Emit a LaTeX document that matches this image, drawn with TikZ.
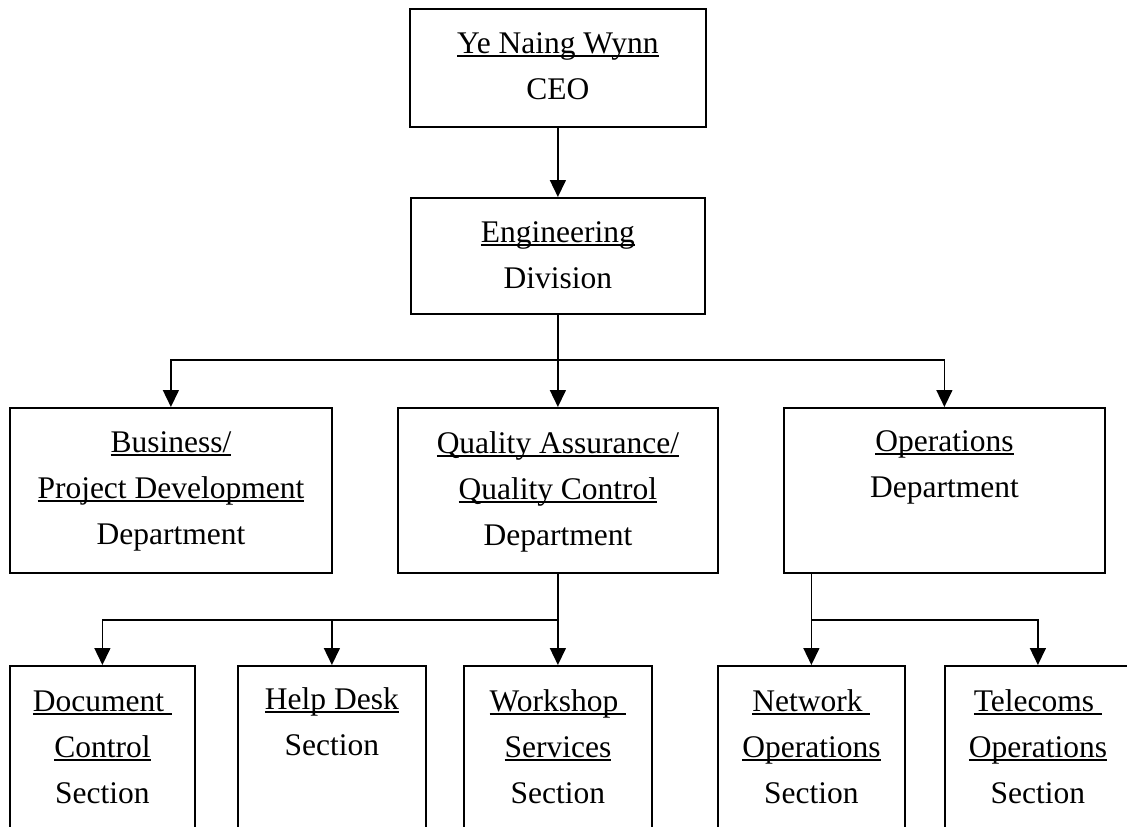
\documentclass[tikz,border=0pt]{standalone}
\usepackage{fontspec}
\setmainfont{Liberation Serif}
\usetikzlibrary{arrows.meta,calc}
% underline at a fixed depth below the baseline (crossing descenders)
\newcommand\ulword[1]{\setbox0=\hbox{#1}\rlap{\rule[-3.6pt]{\wd0}{1.7pt}}\box0}

\begin{document}
\begin{tikzpicture}[x=1pt,y=-1pt,
  box/.style={draw, line width=1.8pt, rectangle, inner sep=0pt, anchor=north west},
  txt/.style={anchor=north, inner sep=0pt, align=center, font=\fontsize{31.5}{46}\selectfont},
  conn/.style={line width=1.5pt},
  arr/.style={conn, -{Triangle[width=16pt,length=17pt]}}]

\useasboundingbox (0,0) rectangle (1127,827);
\clip (0,0) rectangle (1127,827);

% boxes
\node[box, minimum width=296pt, minimum height=118pt] (ceo)  at (409,8)   {};
\node[box, minimum width=294pt, minimum height=116pt] (eng)  at (410,197) {};
\node[box, minimum width=322pt, minimum height=165pt] (bus)  at (9,407)   {};
\node[box, minimum width=320pt, minimum height=165pt] (qa)   at (397,407) {};
\node[box, minimum width=321pt, minimum height=165pt] (ops)  at (783,407) {};
\node[box, minimum width=185pt, minimum height=180pt] (doc)  at (9,665)   {};
\node[box, minimum width=188pt, minimum height=180pt] (help) at (237,665) {};
\node[box, minimum width=188pt, minimum height=180pt] (work) at (463,665) {};
\node[box, minimum width=187pt, minimum height=180pt] (net)  at (717,665) {};
\node[box, minimum width=186pt, minimum height=180pt] (tel)  at (944,665) {};

% labels
\node[txt] (ceot)  at ($(ceo.north)+(0,13)$)  {\strut\ulword{Ye Naing Wynn}\\\strut CEO};
\node[txt] (engt)  at ($(eng.north)+(0,13)$)  {\strut\ulword{Engineering}\\\strut Division};
\node[txt] (bust)  at ($(bus.north)+(0,13)$)  {\strut\ulword{Business/}\\\strut\ulword{Project Development}\\\strut Department};
\node[txt] (qat)   at ($(qa.north)+(0,14)$)   {\strut\ulword{Quality Assurance/}\\\strut\ulword{Quality Control}\\\strut Department};
\node[txt] (opst)  at ($(ops.north)+(0,12)$)  {\strut\ulword{Operations}\\\strut Department};
\node[txt] (doct)  at ($(doc.north)+(0,14)$)  {\strut\ulword{Document\ }\\\strut\ulword{Control}\\\strut Section};
\node[txt] (helpt) at ($(help.north)+(0,12)$) {\strut\ulword{Help Desk}\\\strut Section};
\node[txt] (workt) at ($(work.north)+(0,14)$) {\strut\ulword{Workshop\ }\\\strut\ulword{Services}\\\strut Section};
\node[txt] (nett)  at ($(net.north)+(0,14)$)  {\strut\ulword{Network\ }\\\strut\ulword{Operations}\\\strut Section};
\node[txt] (telt)  at ($(tel.north)+(0,14)$)  {\strut\ulword{Telecoms\ }\\\strut\ulword{Operations}\\\strut Section};

% connectors
\coordinate (split1) at ($(eng.south)+(0,45)$);
\coordinate (split2) at ($(qa.south)+(0,46)$);
\coordinate (opsdrop) at (net.north |- ops.south);
\coordinate (split3) at ($(opsdrop)+(0,46)$);

\draw[arr] (ceo.south) -- (eng.north);
\draw[arr] (eng.south) -- (qa.north);
\draw[arr] (split1) -| (bus.north);
\draw[arr] (split1) -| (ops.north);
\draw[arr] (qa.south) -- (work.north);
\draw[arr] (split2) -| (doc.north);
\draw[arr] (split2) -| (help.north);
\draw[arr] (opsdrop) -- (net.north);
\draw[arr] (split3) -| (tel.north);
\end{tikzpicture}
\end{document}
